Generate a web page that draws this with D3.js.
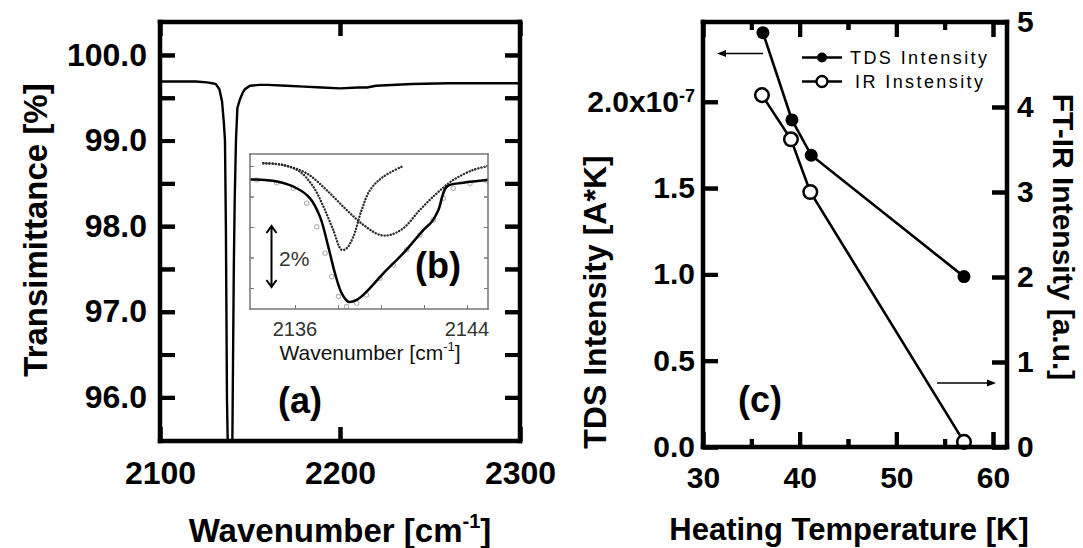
<!DOCTYPE html>
<html>
<head>
<meta charset="utf-8">
<script src="https://cdn.jsdelivr.net/npm/d3@7"></script>
<style>
  body { margin: 0; background: #fff; }
  text { font-family: "Liberation Sans", Arial, sans-serif; }
</style>
</head>
<body>
<div id="chart"></div>
<script>
    var width = 1083;
    var height = 548;

    // (a) IR spectrum
    var specWn = [2100, 2110, 2120, 2126, 2129, 2131, 2133, 2134.5, 2135.5, 2136.1, 2136.6, 2136.9, 2137.2, 2137.6,
                  2138.5, 2139.5, 2140.2, 2140.6, 2141.0, 2141.5, 2142.2, 2143, 2144.4, 2146, 2147.2, 2150, 2155,
                  2160, 2170, 2180, 2190, 2200, 2210, 2215, 2220, 2240, 2260, 2280, 2300];
    var specT  = [99.69, 99.69, 99.69, 99.68, 99.67, 99.66, 99.6, 99.45, 99.2, 99.0, 98.0, 97.0, 96.0, 95.5,
                  95.0, 95.0, 95.5, 96.5, 97.5, 98.3, 99.0, 99.38, 99.48, 99.56, 99.6, 99.64, 99.65,
                  99.65, 99.64, 99.63, 99.62, 99.61, 99.62, 99.62, 99.64, 99.66, 99.67, 99.67, 99.67];
    var yTicksA = [96, 96.5, 97, 97.5, 98, 98.5, 99, 99.5, 100];
    var xTicksA = [2100, 2200, 2300];

    // (b) inset, relative transmittance in %
    var solidWn = [2133.91, 2135.15, 2136.08, 2136.70, 2137.16, 2137.55, 2137.86, 2138.17, 2138.48, 2138.87,
                   2139.33, 2140.11, 2141.04, 2141.97, 2142.36, 2142.67, 2143.06, 2143.83, 2145.0];
    var solidT  = [-0.44, -0.51, -0.73, -1.06, -1.66, -2.65, -3.52, -4.17, -4.45, -4.39,
                   -4.12, -3.52, -2.86, -2.10, -1.83, -1.44, -0.68, -0.55, -0.46];
    var dot1Wn = [2134.53, 2135.46, 2136.23, 2136.85, 2137.32, 2137.78, 2138.17, 2138.40, 2138.71, 2139.10,
                  2139.49, 2140.11, 2141.04];
    var dot1T  = [0.09, 0.03, -0.19, -0.68, -1.33, -2.10, -2.75, -2.70, -2.32, -1.44, -0.79, -0.35, 0.0];
    var dot2Wn = [2134.53, 2135.46, 2136.54, 2137.47, 2138.40, 2139.18, 2139.95, 2140.42, 2141.04, 2141.81,
                  2142.59, 2143.36, 2144.29, 2145.0];
    var dot2T  = [0.09, 0.03, -0.24, -0.79, -1.44, -1.93, -2.26, -2.26, -2.04, -1.44, -0.90, -0.46, -0.13, 0.0];
    var grayWn = [2134.22, 2135.15, 2135.92, 2136.54, 2137.01, 2137.40, 2137.71, 2138.02, 2138.40, 2138.87,
                  2139.33, 2139.95, 2140.57, 2141.20, 2141.81, 2142.43, 2142.90, 2143.36, 2144.14, 2144.92];
    var grayT  = [-0.46, -0.55, -0.73, -1.22, -1.99, -2.86, -3.63, -4.28, -4.61, -4.50,
                  -4.23, -3.68, -3.25, -2.75, -2.26, -1.77, -1.06, -0.73, -0.57, -0.48];
    var xTicksB = [2136, 2138, 2140, 2142, 2144];
    var yTicksB = [0, -1, -2, -3, -4];

    // (c) TDS and IR intensity vs heating temperature
    var tdsTemp = [36.2, 39.2, 41.2, 57.0];
    var tdsVal  = [2.40, 1.895, 1.69, 0.987];   // x 1e-7 A*K
    var irTemp  = [36.1, 39.1, 41.1, 57.0];
    var irVal   = [4.14, 3.62, 3.00, 0.06];     // a.u.
    var xTicksC = [30, 40, 50, 60];
    var xMinorC = [35, 45, 55];
    var yTicksL = [0, 0.5, 1.0, 1.5, 2.0];
    var yTicksR = [0, 1, 2, 3, 4, 5];

    var svg = d3.select("#chart").append("svg")
                .attr("width", width).attr("height", height);

    // side: which way the tick points into the frame; each tick gets a filled bar as well
    var styleAxis = function(g, side, len, fs, tw, col) {
        col = col || "#000";
        g.select(".domain").remove();
        var ln = g.selectAll(".tick line").attr("stroke", col).attr("stroke-width", tw)
                  .attr("x1", 0).attr("y1", 0).attr("x2", 0).attr("y2", 0);
        if (side === "left") ln.attr("x2", len);
        if (side === "right") ln.attr("x2", -len);
        if (side === "bottom") ln.attr("y2", -len);
        if (side === "top") ln.attr("y2", len);
        var bar = g.selectAll(".tick").append("rect").attr("fill", col);
        if (side === "left" || side === "right") {
            bar.attr("x", side === "left" ? 0 : -len).attr("y", -tw / 2).attr("width", len).attr("height", tw);
        } else {
            bar.attr("x", -tw / 2).attr("y", side === "top" ? 0 : -len).attr("width", tw).attr("height", len);
        }
        g.selectAll(".tick text").attr("font-size", fs).attr("font-weight", "bold")
         .attr("fill", "#000").style("font-family", "'Liberation Sans', Arial, sans-serif");
    };
    var frame = function(x, y, w, h, t, col) {   // four filled edges
        var f = svg.append("g").attr("fill", col);
        f.append("rect").attr("x", x - t / 2).attr("y", y - t / 2).attr("width", w + t).attr("height", t);
        f.append("rect").attr("x", x - t / 2).attr("y", y + h - t / 2).attr("width", w + t).attr("height", t);
        f.append("rect").attr("x", x - t / 2).attr("y", y - t / 2).attr("width", t).attr("height", h + t);
        f.append("rect").attr("x", x + w - t / 2).attr("y", y - t / 2).attr("width", t).attr("height", h + t);
    };
    var arrowH = function(x1, x2, y) {   // horizontal pointer with a filled head at x2
        var s = x2 > x1 ? 1 : -1;
        svg.append("line").attr("x1", x1).attr("x2", x2 - s * 6).attr("y1", y).attr("y2", y)
           .attr("stroke", "#000").attr("stroke-width", 1.5);
        svg.append("path").attr("d", "M" + x2 + "," + y + " l" + (-s * 9) + ",-3.5 l0,7 z").attr("fill", "#000");
    };

    var xA = d3.scaleLinear().domain([2100, 2300]).range([160, 520]);
    var yA = d3.scaleLinear().domain([95.49, 100.385]).range([441, 22]);
    var xB = d3.scaleLinear().domain([2133.907, 2144.977]).range([250, 488]);
    var yB = d3.scaleLinear().domain([-4.689, 0.393]).range([309, 154]);
    var xC = d3.scaleLinear().domain([30, 61.45]).range([703, 1007]);
    var yL = d3.scaleLinear().domain([0, 2.462]).range([447, 22]);
    var yR = d3.scaleLinear().domain([0, 5]).range([447, 22]);

    // ---------- panel (a) data, clipped by a nested viewport ----------
    var vpA = svg.append("svg").attr("x", 160).attr("y", 22).attr("width", 360).attr("height", 419)
                 .attr("viewBox", "160 22 360 419");
    var specLine = d3.line().x(function(d) { return xA(d[0]); }).y(function(d) { return yA(d[1]); });
    vpA.append("path").datum(d3.zip(specWn, specT))
       .attr("d", specLine).attr("fill", "none").attr("stroke", "#000").attr("stroke-width", 2.4);

    svg.append("text").attr("transform", "translate(47,230) rotate(-90)")
       .attr("text-anchor", "middle").attr("font-size", 33).attr("font-weight", "bold")
       .text("Transimittance [%]");
    var wl = svg.append("text").attr("x", 340).attr("y", 542).attr("text-anchor", "middle")
       .attr("font-size", 33).attr("font-weight", "bold");
    wl.append("tspan").text("Wavenumber [cm");
    wl.append("tspan").attr("dy", -14).attr("font-size", 20).text("-1");
    wl.append("tspan").attr("dy", 14).text("]");
    svg.append("text").attr("x", 300).attr("y", 413).attr("text-anchor", "middle")
       .attr("font-size", 36).attr("font-weight", "bold").text("(a)");

    // ---------- panel (c) data ----------
    var lineT = d3.line().x(function(d) { return xC(d[0]); }).y(function(d) { return yL(d[1]); });
    var lineI = d3.line().x(function(d) { return xC(d[0]); }).y(function(d) { return yR(d[1]); });
    svg.append("path").datum(d3.zip(tdsTemp, tdsVal)).attr("d", lineT)
       .attr("fill", "none").attr("stroke", "#000").attr("stroke-width", 2.6);
    svg.append("path").datum(d3.zip(irTemp, irVal)).attr("d", lineI)
       .attr("fill", "none").attr("stroke", "#000").attr("stroke-width", 2.6);
    svg.append("g").selectAll("circle").data(d3.zip(tdsTemp, tdsVal)).enter().append("circle")
       .attr("cx", function(d) { return xC(d[0]); }).attr("cy", function(d) { return yL(d[1]); })
       .attr("r", 6.5).attr("fill", "#000");
    svg.append("g").selectAll("circle").data(d3.zip(irTemp, irVal)).enter().append("circle")
       .attr("cx", function(d) { return xC(d[0]); }).attr("cy", function(d) { return yR(d[1]); })
       .attr("r", 6.8).attr("fill", "#fff").attr("stroke", "#000").attr("stroke-width", 2.5);

    // legend
    svg.append("line").attr("x1", 802).attr("x2", 842).attr("y1", 57.5).attr("y2", 57.5)
       .attr("stroke", "#000").attr("stroke-width", 2.6);
    svg.append("circle").attr("cx", 822).attr("cy", 57.5).attr("r", 5).attr("fill", "#000");
    svg.append("line").attr("x1", 802).attr("x2", 842).attr("y1", 81.5).attr("y2", 81.5)
       .attr("stroke", "#000").attr("stroke-width", 2.6);
    svg.append("circle").attr("cx", 822).attr("cy", 81.5).attr("r", 5.5)
       .attr("fill", "#fff").attr("stroke", "#000").attr("stroke-width", 2.3);
    svg.append("text").attr("x", 850).attr("y", 63.5).attr("font-size", 18)
       .attr("textLength", 137).attr("lengthAdjust", "spacing").text("TDS Intensity");
    svg.append("text").attr("x", 855).attr("y", 88).attr("font-size", 18)
       .attr("textLength", 128).attr("lengthAdjust", "spacing").text("IR Instensity");

    arrowH(763, 717, 53.5);
    arrowH(937, 996, 383);

    svg.append("text").attr("x", 760).attr("y", 412).attr("text-anchor", "middle")
       .attr("font-size", 36).attr("font-weight", "bold").text("(c)");
    svg.append("text").attr("transform", "translate(606,302) rotate(-90)")
       .attr("text-anchor", "middle").attr("font-size", 32).attr("font-weight", "bold")
       .text("TDS Intensity [A*K]");
    svg.append("text").attr("transform", "translate(1053,237) rotate(90)")
       .attr("text-anchor", "middle").attr("font-size", 30).attr("font-weight", "bold")
       .text("FT-IR Intensity [a.u.]");
    svg.append("text").attr("x", 849).attr("y", 540).attr("text-anchor", "middle")
       .attr("font-size", 31).attr("font-weight", "bold").text("Heating Temperature [K]");

    // ---------- main axes and frames ----------
    var fmtA = function(d) { return d % 1 === 0 ? d.toFixed(1) : ""; };
    svg.append("g").attr("transform", "translate(160,0)")
       .call(d3.axisLeft(yA).tickValues(yTicksA).tickFormat(fmtA).tickSizeInner(0).tickSizeOuter(0).tickPadding(13))
       .call(styleAxis, "left", 15, 32, 4);
    svg.append("g").attr("transform", "translate(520,0)")
       .call(d3.axisRight(yA).tickValues(yTicksA).tickFormat("").tickSizeInner(0).tickSizeOuter(0))
       .call(styleAxis, "right", 15, 32, 4);
    svg.append("g").attr("transform", "translate(0,441)")
       .call(d3.axisBottom(xA).tickValues(xTicksA).tickFormat(d3.format("d")).tickSizeInner(0).tickSizeOuter(0).tickPadding(20))
       .call(styleAxis, "bottom", 14, 32, 4);
    svg.append("g").attr("transform", "translate(0,22)")
       .call(d3.axisTop(xA).tickValues(xTicksA).tickFormat("").tickSizeInner(0).tickSizeOuter(0))
       .call(styleAxis, "top", 14, 32, 4);
    frame(160, 22, 360, 419, 4.5, "#000");

    var gL = svg.append("g").attr("transform", "translate(703,0)")
       .call(d3.axisLeft(yL).tickValues(yTicksL).tickFormat(d3.format(".1f")).tickSizeInner(0).tickSizeOuter(0).tickPadding(8))
       .call(styleAxis, "left", 15, 30, 4);
    // 2.0 label carries the exponent
    gL.selectAll(".tick text").filter(function() { return this.textContent === "2.0"; })
       .each(function() {
           var t = d3.select(this).text("2.0x10");
           t.append("tspan").attr("dy", "-0.55em").attr("font-size", 18).text("-7");
       });
    svg.append("g").attr("transform", "translate(1007,0)")
       .call(d3.axisRight(yR).tickValues(yTicksR).tickFormat(d3.format("d")).tickSizeInner(0).tickSizeOuter(0).tickPadding(10))
       .call(styleAxis, "right", 15, 30, 4);
    svg.append("g").attr("transform", "translate(0,447)")
       .call(d3.axisBottom(xC).tickValues(xTicksC).tickFormat(d3.format("d")).tickSizeInner(0).tickSizeOuter(0).tickPadding(20))
       .call(styleAxis, "bottom", 15, 30, 4);
    svg.append("g").attr("transform", "translate(0,447)")
       .call(d3.axisBottom(xC).tickValues(xMinorC).tickFormat("").tickSizeInner(0).tickSizeOuter(0))
       .call(styleAxis, "bottom", 8, 30, 4);
    svg.append("g").attr("transform", "translate(0,22)")
       .call(d3.axisTop(xC).tickValues(xTicksC).tickFormat("").tickSizeInner(0).tickSizeOuter(0))
       .call(styleAxis, "top", 15, 30, 4);
    svg.append("g").attr("transform", "translate(0,22)")
       .call(d3.axisTop(xC).tickValues(xMinorC).tickFormat("").tickSizeInner(0).tickSizeOuter(0))
       .call(styleAxis, "top", 8, 30, 4);
    frame(703, 22, 304, 425, 4.5, "#000");

    // ---------- inset (b), on top of panel (a) ----------
    svg.append("rect").attr("x", 250).attr("y", 154).attr("width", 238).attr("height", 155)
       .attr("fill", "#fff");
    var vpB = svg.append("svg").attr("x", 250).attr("y", 154).attr("width", 238).attr("height", 155)
                 .attr("viewBox", "250 154 238 155");
    var lineB = d3.line().curve(d3.curveCatmullRom)
        .x(function(d) { return xB(d[0]); }).y(function(d) { return yB(d[1]); });
    vpB.append("g").selectAll("circle").data(d3.zip(grayWn, grayT)).enter().append("circle")
       .attr("cx", function(d) { return xB(d[0]); }).attr("cy", function(d) { return yB(d[1]); })
       .attr("r", 2.2).attr("fill", "none").attr("stroke", "#b5b5b5").attr("stroke-width", 1.1);
    vpB.append("path").datum(d3.zip(dot1Wn, dot1T)).attr("d", lineB)
       .attr("fill", "none").attr("stroke", "#2a2a2a").attr("stroke-width", 2.4)
       .attr("stroke-dasharray", "0.1,3").attr("stroke-linecap", "round");
    vpB.append("path").datum(d3.zip(dot2Wn, dot2T)).attr("d", lineB)
       .attr("fill", "none").attr("stroke", "#2a2a2a").attr("stroke-width", 2.4)
       .attr("stroke-dasharray", "0.1,3").attr("stroke-linecap", "round");
    vpB.append("path").datum(d3.zip(solidWn, solidT)).attr("d", lineB)
       .attr("fill", "none").attr("stroke", "#000").attr("stroke-width", 2.5);

    svg.append("g").attr("transform", "translate(250,0)")
       .call(d3.axisLeft(yB).tickValues(yTicksB).tickFormat("").tickSizeInner(0).tickSizeOuter(0))
       .call(styleAxis, "left", 4, 10, 1, "#777");
    svg.append("g").attr("transform", "translate(488,0)")
       .call(d3.axisRight(yB).tickValues(yTicksB).tickFormat("").tickSizeInner(0).tickSizeOuter(0))
       .call(styleAxis, "right", 4, 10, 1, "#777");
    svg.append("g").attr("transform", "translate(0,309)")
       .call(d3.axisBottom(xB).tickValues(xTicksB).tickFormat("").tickSizeInner(0).tickSizeOuter(0))
       .call(styleAxis, "bottom", 4, 10, 1, "#777");
    frame(250, 154, 238, 155, 1.5, "#777");

    [2136, 2144].forEach(function(v) {
        svg.append("text").attr("x", xB(v)).attr("y", 336).attr("text-anchor", "middle")
           .attr("font-size", 20).attr("fill", "#333").text(v);
    });
    var il = svg.append("text").attr("x", 370).attr("y", 360).attr("text-anchor", "middle")
       .attr("font-size", 21).attr("fill", "#111");
    il.append("tspan").text("Wavenumber [cm");
    il.append("tspan").attr("dy", -9).attr("font-size", 13).text("-1");
    il.append("tspan").attr("dy", 9).text("]");

    // 2% double arrow
    svg.append("path").attr("d", "M271.5,227 L271.5,286 M266.5,233 L271.5,226 L276.5,233 M266.5,280 L271.5,287 L276.5,280")
       .attr("fill", "none").attr("stroke", "#000").attr("stroke-width", 2);
    svg.append("text").attr("x", 279).attr("y", 266).attr("font-size", 21).attr("fill", "#333").text("2%");
    svg.append("text").attr("x", 438).attr("y", 278).attr("text-anchor", "middle")
       .attr("font-size", 36).attr("font-weight", "bold").text("(b)");
</script>
</body>
</html>
